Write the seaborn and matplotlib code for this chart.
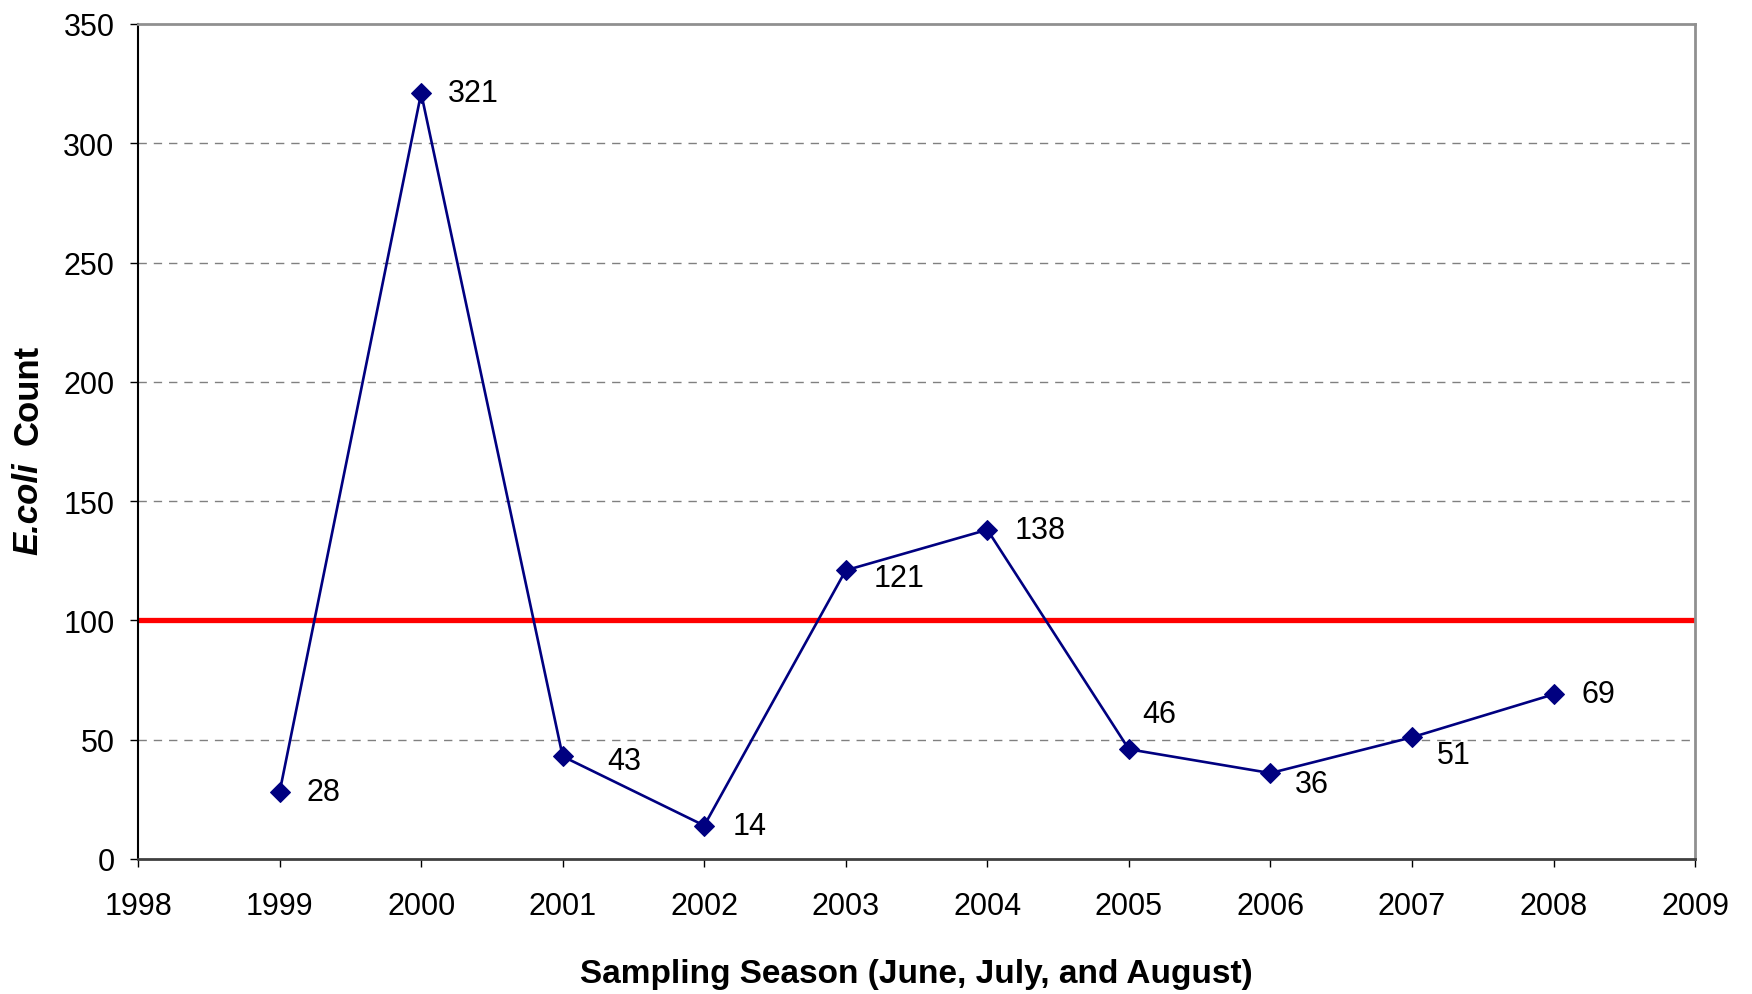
import seaborn as sns
import pandas as pd
import matplotlib.pyplot as plt

# data
years = [1999, 2000, 2001, 2002, 2003, 2004, 2005, 2006, 2007, 2008]
counts = [28, 321, 43, 14, 121, 138, 46, 36, 51, 69]
limit = 100
x_ticks = list(range(1998, 2010))
y_ticks = list(range(0, 351, 50))

# label offsets (pixels) so the numbers sit like in the original
label_dx = [44, 52, 62, 45, 53, 53, 30, 41, 42, 45]
label_dy = [0, 0, -5, 0, -8, 0, 35, -11, -18, 0]

df = pd.DataFrame({"Season": years, "Count": counts})

sns.set_theme(style="white")
plt.rcParams["font.family"] = ["Liberation Sans", "DejaVu Sans"]
plt.rcParams["text.color"] = "black"
plt.rcParams["axes.labelcolor"] = "black"

fig = plt.figure(figsize=(17.52, 9.95), dpi=100)
ax = fig.add_axes([0.0788, 0.1357, 0.8887, 0.8392])

# dashed grid
for y in y_ticks[1:-1]:
    ax.axhline(y, color="#808080", lw=1.0, ls=(0, (6, 5)), zorder=0)

# red threshold line
ax.axhline(limit, color="#ff0000", lw=3.8, zorder=1)

sns.lineplot(data=df, x="Season", y="Count", ax=ax, color="#000080",
             lw=1.9, marker="D", markersize=10, markeredgecolor="#000080",
             zorder=3)

for x, y, dx, dy in zip(years, counts, label_dx, label_dy):
    ax.annotate(str(y), (x, y), xytext=(dx, dy), textcoords="offset pixels",
                ha="center", va="center", fontsize=22, color="black")

ax.set_xlim(1998, 2009)
ax.set_ylim(0, 350)
ax.set_xticks(x_ticks)
ax.set_yticks(y_ticks)
ax.tick_params(axis="both", which="major", direction="out", length=6,
               width=1, color="black", labelsize=22, labelcolor="black",
               bottom=True, left=True)
ax.tick_params(axis="x", pad=17)
ax.tick_params(axis="y", pad=11)

for side in ["top", "right"]:
    ax.spines[side].set_color("#909090")
    ax.spines[side].set_linewidth(2)
ax.spines["left"].set_color("black")
ax.spines["left"].set_linewidth(1.5)
ax.spines["bottom"].set_color("#404040")
ax.spines["bottom"].set_linewidth(2)

ax.set_xlabel("Sampling Season (June, July, and August)", fontsize=24,
              fontweight="bold", labelpad=27)
ax.set_ylabel("")

# y label in two parts: italic "E.coli" and upright "Count"
fig.text(28, 440, "E.coli", transform=None, rotation=90, ha="center",
         va="bottom", fontsize=25, fontweight="bold", fontstyle="italic")
fig.text(28, 550, "Count", transform=None, rotation=90, ha="center",
         va="bottom", fontsize=25, fontweight="bold")

fig.savefig("out.png", dpi=100)
